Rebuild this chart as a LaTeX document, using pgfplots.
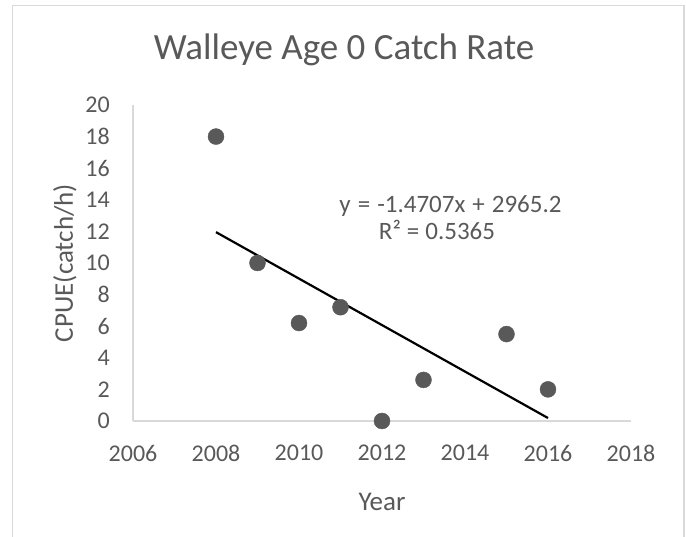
\documentclass[border=0pt]{standalone}
\usepackage{fontspec}
\setmainfont{Carlito}
\usepackage{pgfplots}
\pgfplotsset{compat=1.18}
\definecolor{txt}{HTML}{595959}
\definecolor{axg}{HTML}{D9D9D9}
\definecolor{mk}{HTML}{595959}
\begin{document}
\begin{tikzpicture}
\useasboundingbox (-133pt,-116pt) rectangle (553pt,421pt);
\draw[axg, line width=1.6pt] (-120.3pt,-117pt) -- (-120.3pt,415.5pt) -- (551pt,415.5pt) -- (551pt,-117pt);
\begin{axis}[
  at={(0pt,0pt)}, anchor=south west,
  scale only axis, width=498pt, height=316pt,
  xmin=2006, xmax=2018, ymin=0, ymax=20,
  xtick={2006,2008,...,2018}, ytick={0,2,...,20},
  axis lines=left,
  axis line style={-, draw=axg, line width=1.5pt},
  major tick length=0pt,
  tick style={draw=none},
  /pgf/number format/1000 sep={},
  /pgf/number format/assume math mode=true,
  ticklabel style={font=\fontsize{24}{28}\selectfont, text=txt, inner sep=0pt},
  xticklabel style={anchor=north, yshift=-24pt},
  yticklabel style={anchor=east, xshift=-23pt},
  xlabel={Year},
  label style={font=\fontsize{27}{32}\selectfont, text=txt, inner sep=0pt},
  xlabel style={at={(axis description cs:0.5,0)}, anchor=north, yshift=-72pt},
  clip=false,
]
\addplot[only marks, mark=*, mark size=8pt, mark options={draw=mk, fill=mk}]
  coordinates {(2008,18) (2009,10) (2010,6.2) (2011,7.2) (2012,0) (2013,2.6) (2015,5.5) (2016,2)};
\addplot[black, line width=2.2pt, no marks] coordinates {(2008,11.953) (2016,0.187)};
\end{axis}
\node[rotate=90, anchor=north, inner sep=0pt, text=txt, font=\fontsize{27}{32}\selectfont] at (-80pt,158pt) {CPUE(catch/h)};
\node[anchor=base, inner sep=0pt, text=txt, font=\fontsize{37}{44}\selectfont] at (211pt,361pt) {Walleye Age 0 Catch Rate};
\node[anchor=base, inner sep=0pt, text=txt, font=\fontsize{25}{30}\selectfont] at (317.5pt,208pt) {y\hspace{7pt}=\hspace{7pt}-1.4707x\hspace{7pt}+\hspace{7pt}2965.2};
\node[anchor=base, inner sep=0pt, text=txt, font=\fontsize{25}{30}\selectfont] at (304pt,181pt) {R²\hspace{6pt}=\hspace{6pt}0.5365};
\end{tikzpicture}
\end{document}
